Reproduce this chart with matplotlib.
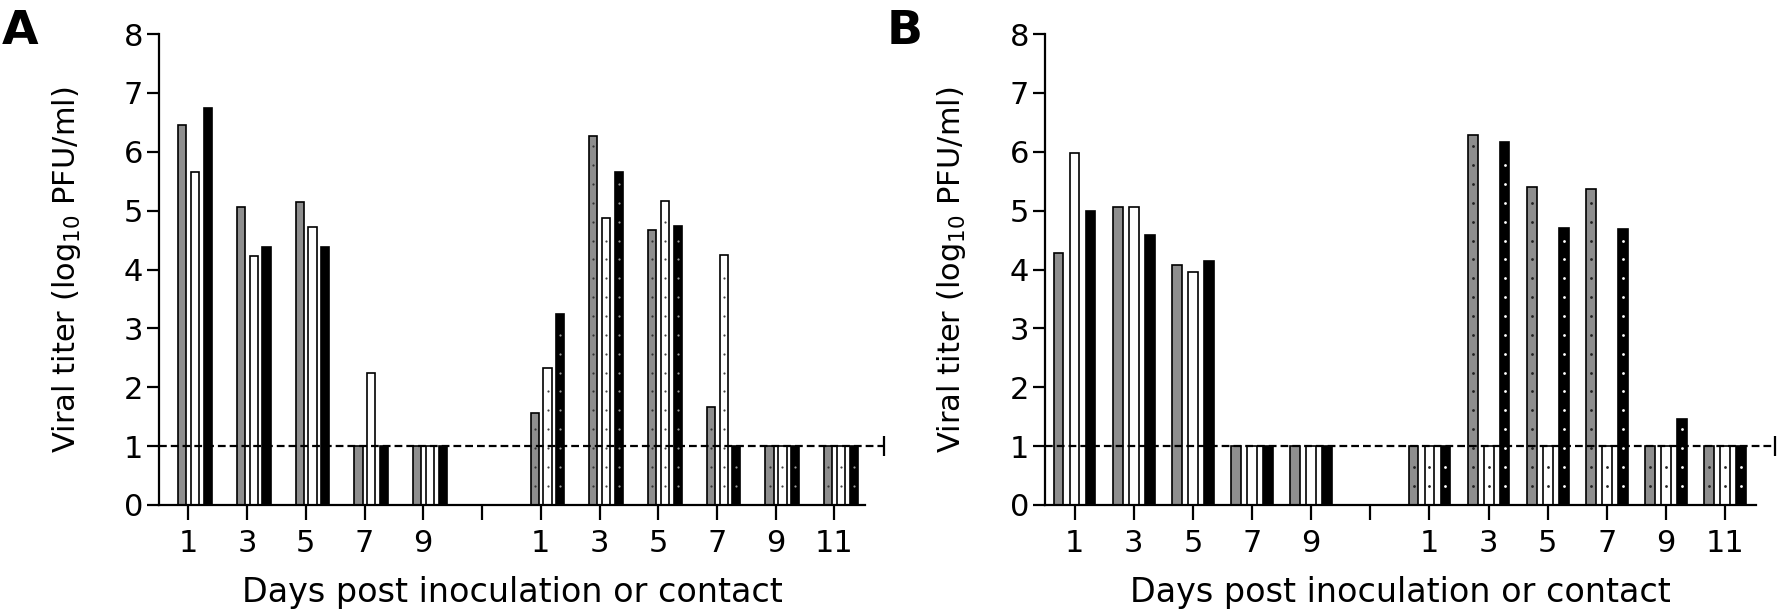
import numpy as np
import matplotlib
matplotlib.use('Agg')
import matplotlib.pyplot as plt

# x categories: inoculated days, an empty slot, then contact days
days_inoc = ['1', '3', '5', '7', '9']
days_contact = ['1', '3', '5', '7', '9', '11']
tick_labels = days_inoc + [''] + days_contact
group_pos = [0, 1, 2, 3, 4, 6, 7, 8, 9, 10, 11]
n_inoc = len(days_inoc)

# panel A (log10 PFU/ml), inoculated days then contact days
a_gray = [6.45, 5.06, 5.14, 1.0, 1.0, 1.57, 6.26, 4.67, 1.67, 1.0, 1.0]
a_white = [5.66, 4.23, 4.73, 2.25, 1.0, 2.32, 4.88, 5.17, 4.24, 1.0, 1.0]
a_black = [6.74, 4.39, 4.39, 1.0, 1.0, 3.25, 5.66, 4.74, 1.0, 1.0, 1.0]

# panel B
b_gray = [4.28, 5.07, 4.08, 1.0, 1.0, 1.0, 6.29, 5.40, 5.36, 1.0, 1.0]
b_white = [5.98, 5.07, 3.96, 1.0, 1.0, 1.0, 1.0, 1.0, 1.0, 1.0, 1.0]
b_black = [5.00, 4.59, 4.14, 1.0, 1.0, 1.0, 6.17, 4.71, 4.69, 1.46, 1.0]

lod = 1.0

W, H = 1778, 616
fig = plt.figure(figsize=(W / 100, H / 100), dpi=100)


def draw_panel(ax, series, offsets, width, dot_colors, dot_size, letter, letter_x):
    fills = ['#8e8e8e', 'white', 'black']
    pos = np.array(group_pos, dtype=float)
    for vals, off, fc, dc in zip(series, offsets, fills, dot_colors):
        ax.bar(pos + off, vals, width=width, color=fc, edgecolor='black',
               linewidth=1.2, zorder=2)
        # dotted pattern on contact animals
        for x, v in zip(pos[n_inoc:] + off, vals[n_inoc:]):
            ys = np.arange(0.33, v - 0.12, 0.32)
            ax.scatter(np.full(len(ys), x), ys, s=dot_size, color=dc,
                       linewidths=0, zorder=3)

    xend = 11.84
    ax.plot([-0.5, xend], [lod, lod], color='black', lw=1.6,
            ls=(0, (3.5, 1.8)), clip_on=False, zorder=4)
    ax.plot([xend], [lod], marker='|', ms=15, mew=1.6, color='black',
            clip_on=False, zorder=4)

    ax.set_xlim(-0.5, 11.52)
    ax.set_ylim(0, 8)
    ax.set_xticks(range(12))
    ax.set_xticklabels(tick_labels)
    ax.set_yticks(range(9))
    for s in ['top', 'right']:
        ax.spines[s].set_visible(False)
    for s in ['left', 'bottom']:
        ax.spines[s].set_linewidth(1.6)
    ax.tick_params(axis='both', direction='out', width=1.6, labelsize=22)
    ax.tick_params(axis='x', length=11, pad=6)
    ax.tick_params(axis='y', length=8.5, pad=3)
    ax.set_ylabel('Viral titer (log$_{10}$ PFU/ml)', fontsize=22)
    ax.yaxis.set_label_coords(-0.108, 0.5)
    ax.set_xlabel('Days post inoculation or contact', fontsize=24)
    ax.xaxis.set_label_coords(0.5, -0.15)
    fig.text(letter_x, 0.985, letter, fontsize=34, fontweight='bold',
             va='top', ha='left')


axA = fig.add_axes([159 / W, 1 - 505 / H, (865 - 159) / W, (505 - 34) / H])
draw_panel(axA, [a_gray, a_white, a_black], [-0.105, 0.115, 0.33], 0.14,
           ['#333333', '#444444', '#9a9a9a'], 2.5, 'A', 0.001)

axB = fig.add_axes([1045 / W, 1 - 505 / H, (1756 - 1045) / W, (505 - 34) / H])
draw_panel(axB, [b_gray, b_white, b_black], [-0.27, 0.0, 0.27], 0.165,
           ['#222222', '#222222', 'white'], 4, 'B', 887 / W)

fig.savefig('out.png', dpi=100)
